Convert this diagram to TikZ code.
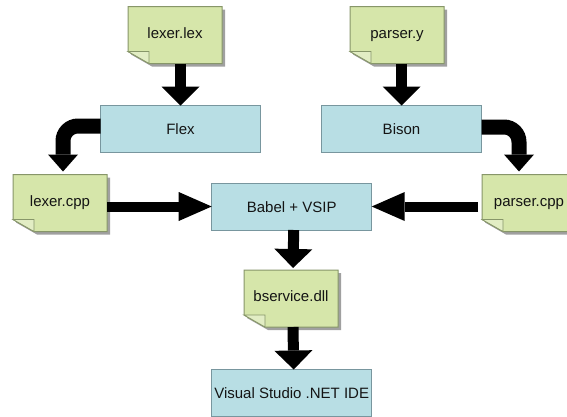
\documentclass[tikz,border=0pt]{standalone}
\usepackage{fontspec}
\setmainfont{Liberation Sans}
\usetikzlibrary{arrows.meta,backgrounds,calc}
\definecolor{notefill}{RGB}{214,230,170}
\definecolor{noteline}{RGB}{135,150,105}
\definecolor{flapfill}{RGB}{226,237,196}
\definecolor{boxfill}{RGB}{184,222,228}
\definecolor{boxline}{RGB}{120,150,158}
\definecolor{shadowc}{RGB}{160,160,160}
\begin{document}
\begin{tikzpicture}[x=1pt,y=-1pt,
  every node/.style={font=\fontsize{15}{18}\selectfont, text=black!92, inner sep=0pt, outer sep=0pt},
  note/.style={minimum width=94pt, minimum height=57pt, text height=11pt, text depth=5pt},
  procbox/.style={draw=boxline, line width=1pt, fill=boxfill, minimum width=160pt, minimum height=47pt, text height=11pt, text depth=0pt},
  vflow/.style={line width=11pt, -{Triangle[width=38pt,length=19pt,line width=0pt]}},
  hflow/.style={line width=10pt, -{Triangle[width=29pt,length=33pt,line width=0pt]}},
  cflow/.style={line width=15pt, rounded corners=15pt, -{Triangle[width=30pt,length=17pt,line width=0pt]}},
]
\useasboundingbox (0,0) rectangle (567,416);
\clip (0,0) rectangle (567,416);

% nodes
\node[note] (lexlex) at (175,35) {lexer.lex};
\node[note] (pary) at (397,35) {parser.y};
\node[procbox] (flex) at (180.5,129) {Flex};
\node[procbox] (bison) at (401.5,129) {Bison};
\node[note] (lexcpp) at (60,203) {lexer.cpp};
\node[note] (pcpp) at (529,203) {parser.cpp};
\node[procbox] (babel) at (291.7,206.5) {Babel + VSIP};
\node[note] (bsvc) at (291,298.5) {bservice.dll};
\node[procbox] (vs) at (291.7,393) {Visual Studio .NET IDE};

% note shapes behind the text
\begin{scope}[on background layer]
  \clip (0,0) rectangle (567,416);
  \fill[white] (0,0) rectangle (567,416);
  \foreach \n in {lexlex,pary,lexcpp,pcpp,bsvc}{
    \fill[shadowc] ([shift={(3pt,-3pt)}]\n.north west) -- ([shift={(3pt,-3pt)}]\n.north east)
      -- ([shift={(3pt,-3pt)}]\n.south east) -- ([shift={(24pt,-3pt)}]\n.south west)
      -- ([shift={(3pt,9pt)}]\n.south west) -- cycle;
    \filldraw[fill=notefill, draw=noteline, line width=1pt] (\n.north west) -- (\n.north east)
      -- (\n.south east) -- ([xshift=21pt]\n.south west) -- ([yshift=12pt]\n.south west) -- cycle;
    \filldraw[fill=flapfill, draw=noteline, line width=0.8pt] ([yshift=12pt]\n.south west)
      -- ([shift={(21pt,12pt)}]\n.south west) -- ([xshift=21pt]\n.south west) -- cycle;
  }
\end{scope}

% connectors
\draw[vflow] (flex.north |- lexlex.south) -- (flex.north);
\draw[vflow] (bison.north |- pary.south) -- (bison.north);
\draw[cflow, shorten >=3pt] ([yshift=3pt]flex.west) -| ([xshift=3pt]lexcpp.north);
\draw[cflow, shorten >=3pt] ([yshift=2pt]bison.east) -| ([xshift=-10pt]pcpp.north);
\draw[hflow] (lexcpp.east |- babel.west) -- (babel.west);
\draw[hflow] ([xshift=-4pt]pcpp.west |- babel.east) -- (babel.east);
\draw[vflow, shorten >=2pt] ([xshift=2pt]babel.south) -- ([xshift=2pt]bsvc.north);
\draw[vflow] ([xshift=2pt]bsvc.south) -- ([xshift=2pt]vs.north);
\end{tikzpicture}
\end{document}
